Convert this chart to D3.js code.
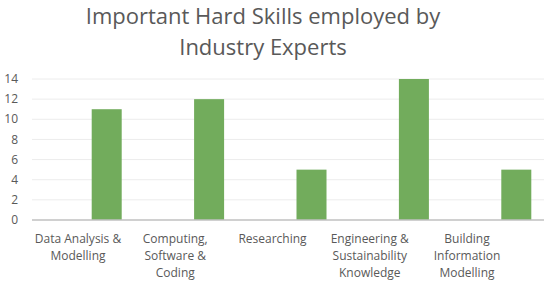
<!DOCTYPE html>
<html lang="en">
<head>
<meta charset="utf-8">
<style>
	body { margin: 0; background: #fff; }
	text { font-family: "Open Sans", sans-serif; fill: #595959; }
</style>
</head>
<body>
<script src="https://d3js.org/d3.v7.min.js"></script>
<script>
var titleLines = ["Important Hard Skills employed by", "Industry Experts"];
var categories = [
	"Data Analysis & Modelling",
	"Computing, Software & Coding",
	"Researching",
	"Engineering & Sustainability Knowledge",
	"Building Information Modelling"
];
var labelLines = [
	["Data Analysis &", "Modelling"],
	["Computing,", "Software &", "Coding"],
	["Researching"],
	["Engineering &", "Sustainability", "Knowledge"],
	["Building", "Information", "Modelling"]
];
var values = [11, 12, 5, 14, 5];
var yTicks = [0, 2, 4, 6, 8, 10, 12, 14];

var width = 550, height = 286;
var plotLeft = 32, plotRight = 544, plotTop = 79, plotBottom = 220;

var svg = d3.select("body").append("svg")
	.attr("width", width)
	.attr("height", height);

svg.append("g").selectAll("text")
	.data(titleLines)
	.enter().append("text")
	.attr("x", width / 2 - 12)
	.attr("y", function (d, i) { return 23.5 + i * 31.5; })
	.attr("text-anchor", "middle")
	.style("font-size", "22px")
	.text(function (d) { return d; });

var x = d3.scaleBand().domain(categories).range([plotLeft, plotRight]);
var y = d3.scaleLinear().domain([0, 14]).range([plotBottom, plotTop]);
// label centres sit a little left of the band centres in the original
var xl = d3.scalePoint().domain(categories).range([78, 467]);

svg.append("g").selectAll("line")
	.data(yTicks.slice(1))
	.enter().append("line")
	.attr("x1", plotLeft).attr("x2", plotRight)
	.attr("y1", function (d) { return y(d); })
	.attr("y2", function (d) { return y(d); })
	.attr("stroke", "#ececec")
	.attr("stroke-width", 1);

svg.append("g").selectAll("text")
	.data(yTicks)
	.enter().append("text")
	.attr("x", 18)
	.attr("y", function (d) { return y(d); })
	.attr("dy", "0.35em")
	.attr("text-anchor", "end")
	.style("font-size", "12px")
	.text(function (d) { return d; });

svg.append("g").selectAll("rect")
	.data(values)
	.enter().append("rect")
	.attr("x", function (d, i) { return x(categories[i]) + x.bandwidth() * 0.583; })
	.attr("width", x.bandwidth() * 0.293)
	.attr("y", function (d) { return y(d); })
	.attr("height", function (d) { return y(0) - y(d); })
	.attr("fill", "#72ac5c");

svg.append("line")
	.attr("x1", plotLeft).attr("x2", plotRight)
	.attr("y1", y(0)).attr("y2", y(0))
	.attr("stroke", "#c0c0c0")
	.attr("stroke-width", 1.5);

var lab = svg.append("g").selectAll("text")
	.data(categories)
	.enter().append("text")
	.attr("text-anchor", "middle")
	.style("font-size", "12px");
lab.selectAll("tspan")
	.data(function (d, i) { return labelLines[i].map(function (t) { return {t: t, c: d}; }); })
	.enter().append("tspan")
	.attr("x", function (d) { return xl(d.c); })
	.attr("y", function (d, j) { return 243 + j * 17; })
	.text(function (d) { return d.t; });
</script>
</body>
</html>
